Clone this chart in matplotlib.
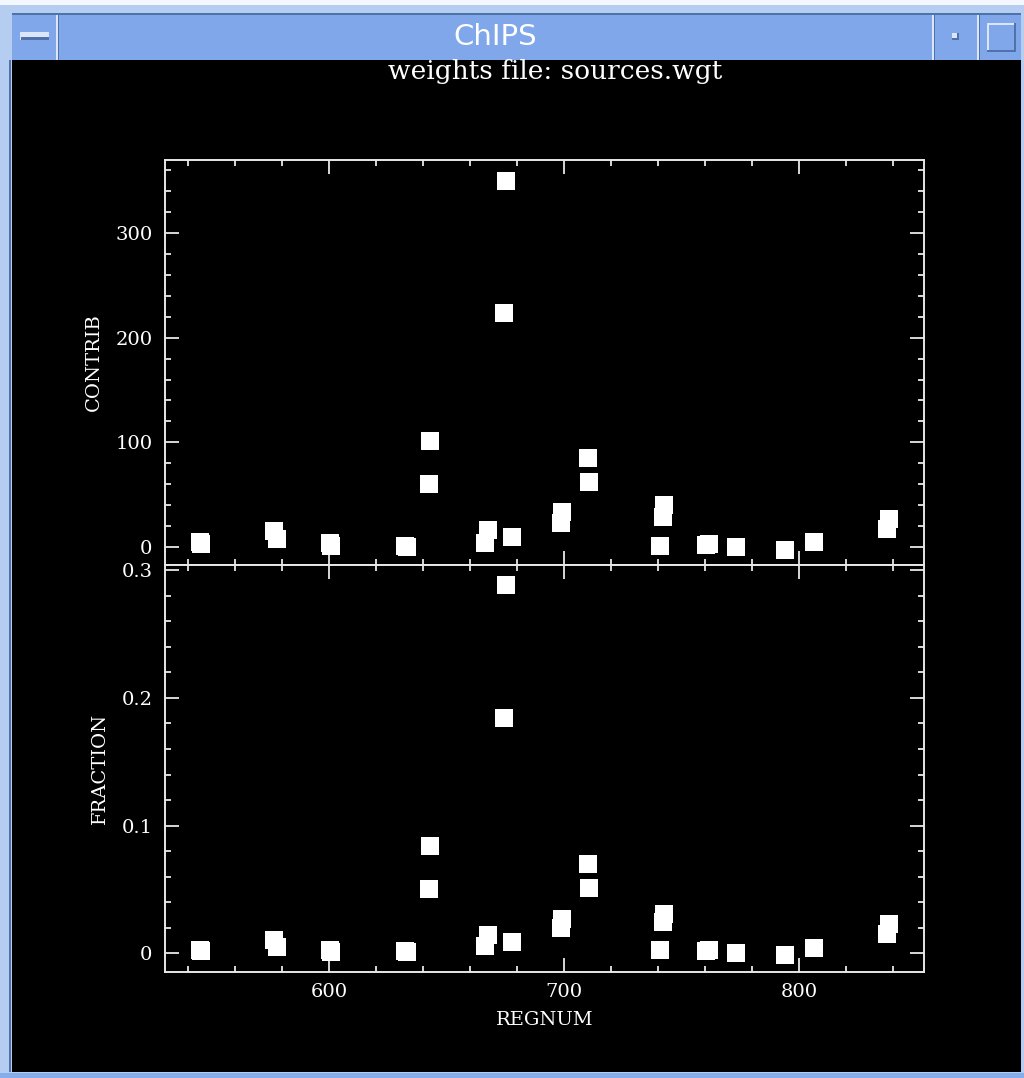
import matplotlib
matplotlib.use("Agg")
import matplotlib.pyplot as plt
from matplotlib.patches import Rectangle
from matplotlib.ticker import MultipleLocator, FuncFormatter

# region number, contribution and fraction
regnum = [545, 545.5, 576.5, 578, 600.5, 601, 632.5, 633, 642.5, 643,
          666.5, 667.5, 674.5, 675.3, 678, 698.7, 699, 710, 710.5,
          741, 742, 742.5, 760.5, 761.5, 773, 794, 806.5, 837.5, 838.5]
contrib = [4.5, 2.5, 15, 8, 4, 0.5, 1, 0, 60, 101,
           4, 16, 224, 350, 10, 23, 33, 85, 62,
           1, 29, 40, 2, 3, 0.3, -2.5, 5, 17, 27]
fraction = [0.0030, 0.0020, 0.0105, 0.0050, 0.0030, 0.0012, 0.0018, 0.0010, 0.050, 0.084,
            0.0055, 0.014, 0.184, 0.288, 0.0086, 0.0196, 0.027, 0.0697, 0.051,
            0.003, 0.0245, 0.031, 0.0018, 0.0025, 0.0003, -0.0016, 0.004, 0.015, 0.0227]

W, H = 1024, 1078
fg = "#e8e8e8"
serif = "DejaVu Serif"

fig = plt.figure(figsize=(W / 100, H / 100), dpi=100, facecolor="black")


def box(x0, y0, x1, y1, color):
    # pixel coords measured from the top left of the window, drawn behind the axes
    fig.patches.append(Rectangle((x0 / W, 1 - y1 / H), (x1 - x0) / W, (y1 - y0) / H,
                                 transform=fig.transFigure, color=color, zorder=-5, lw=0))


# window frame
box(0, 0, W, H, "#b6cdf2")
box(0, 0, W, 5, "#f4f7fd")
box(12, 13, 1021, 60, "#7fa7e9")
box(12, 13, 1021, 15, "#4f72aa")
box(12, 60, 1021, 1072, "black")
box(9, 60, 11, 1072, "#4f72aa")
box(0, 1073, W, H, "#86adec")
# title bar separators
for sx in [57, 933, 978]:
    box(sx - 1, 15, sx + 1, 60, "#dbe6fa")
    box(sx + 1, 15, sx + 2, 60, "#4f72aa")
# buttons
box(20, 32, 49, 40, "#dbe6fa")
box(21, 37, 49, 40, "#4f72aa")
box(952, 33, 959, 40, "#4f72aa")
box(952, 33, 957, 38, "#dbe6fa")
box(987, 23, 1016, 52, "#4f72aa")
box(987, 23, 1014, 50, "#dbe6fa")
box(989, 25, 1014, 50, "#7fa7e9")

fig.text(495 / W, 1 - 37 / H, "ChIPS", color="white", fontsize=21,
         family="DejaVu Sans", ha="center", va="center")
fig.text(555 / W, 1 - 71 / H, "weights file: sources.wgt", color="white",
         fontsize=19, family=serif, ha="center", va="center")

ax1 = fig.add_axes([165 / W, 1 - 565 / H, 759 / W, 405 / H], facecolor="black")
ax2 = fig.add_axes([165 / W, 1 - 972 / H, 759 / W, 407 / H], facecolor="black")

for ax, yvals, ylab, ylim, ymaj, ymin in [
        (ax1, contrib, "CONTRIB", (-17.2, 369.7), 100, 20),
        (ax2, fraction, "FRACTION", (-0.0146, 0.304), 0.1, 0.02)]:
    ax.plot(regnum, yvals, "s", color="white", ms=12.5, mec="white", mew=0)
    ax.set_xlim(530.2, 853.2)
    ax.set_ylim(*ylim)
    ax.xaxis.set_major_locator(MultipleLocator(100))
    ax.xaxis.set_minor_locator(MultipleLocator(20))
    ax.yaxis.set_major_locator(MultipleLocator(ymaj))
    ax.yaxis.set_minor_locator(MultipleLocator(ymin))
    ax.yaxis.set_major_formatter(FuncFormatter(lambda v, p: "%g" % round(v, 6)))
    for s in ax.spines.values():
        s.set_color(fg)
        s.set_linewidth(1.4)
    ax.tick_params(which="both", direction="in", top=True, right=True,
                   color=fg, width=1.3, labelcolor="white", labelsize=14)
    ax.tick_params(which="major", length=10, pad=9)
    ax.tick_params(which="minor", length=4.5)
    for lab in ax.get_xticklabels() + ax.get_yticklabels():
        lab.set_family(serif)
    ax.set_ylabel(ylab, color="white", fontsize=14, family=serif, labelpad=9)

ax1.tick_params(labelbottom=False)
ax2.tick_params(axis="x", pad=8)
ax2.set_xlabel("REGNUM", color="white", fontsize=14, family=serif, labelpad=7)

fig.savefig("out.png", dpi=100, facecolor="black")
